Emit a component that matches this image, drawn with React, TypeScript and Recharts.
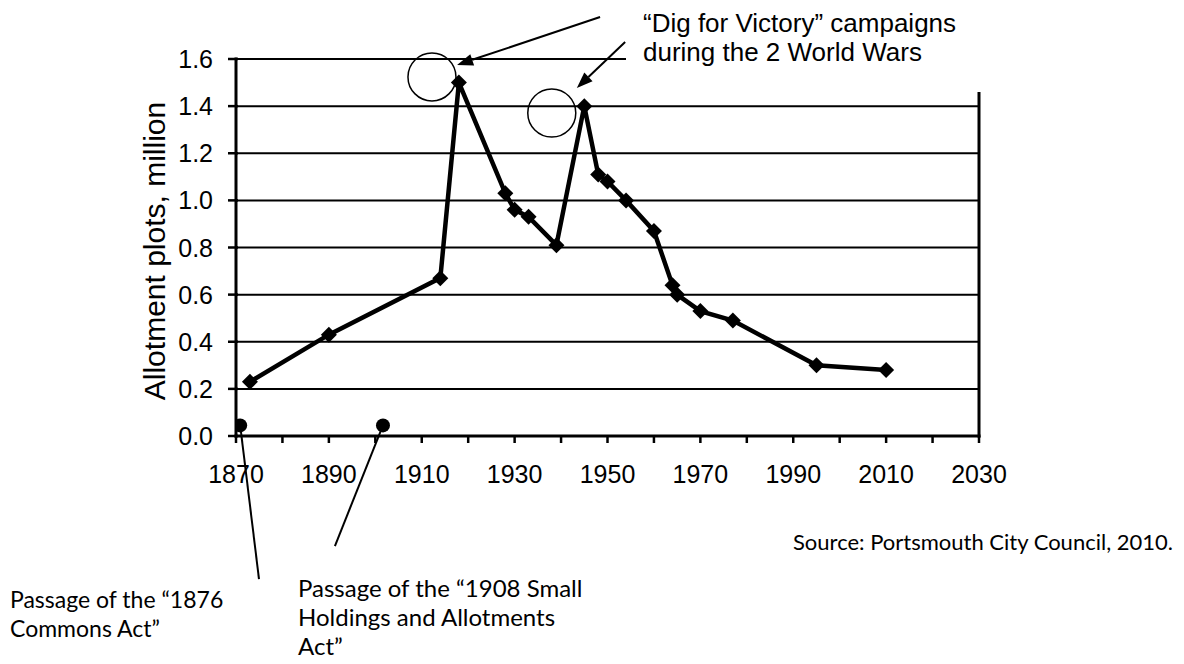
import React from 'react';
import {
  ComposedChart,
  Line,
  Scatter,
  XAxis,
  YAxis,
  CartesianGrid,
  ReferenceLine,
  ReferenceDot,
} from 'recharts';

// ---- Data ----
const years = [1873, 1890, 1914, 1918, 1928, 1930, 1933, 1939, 1945, 1948, 1950, 1954, 1960, 1964, 1965, 1970, 1977, 1995, 2010];
const plots = [0.23, 0.43, 0.67, 1.5, 1.03, 0.96, 0.93, 0.81, 1.4, 1.11, 1.08, 1.0, 0.87, 0.64, 0.6, 0.53, 0.49, 0.3, 0.28];

// the two "Act" markers near the x axis
const actYears = [1870.9, 1901.65];
const actValues = [0.045, 0.045];

const xTicks = [1870, 1880, 1890, 1900, 1910, 1920, 1930, 1940, 1950, 1960, 1970, 1980, 1990, 2000, 2010, 2020, 2030];
const yTicks = [0, 0.2, 0.4, 0.6, 0.8, 1.0, 1.2, 1.4, 1.6];

const yLabel = 'Allotment plots, million';
const digLines = ['\u201CDig for Victory\u201D campaigns', 'during the 2 World Wars'];
const commonsLines = ['Passage of the \u201C1876', 'Commons Act\u201D'];
const smallHoldingsLines = ['Passage of the \u201C1908 Small', 'Holdings and Allotments', 'Act\u201D'];
const sourceText = 'Source: Portsmouth City Council, 2010.';

// annotation anchors in data units
const circleCenters = [
  { x: 1912.2, y: 1.524 },
  { x: 1938.0, y: 1.371 },
];
const arrows = [
  [{ x: 1948.4, y: 1.778 }, { x: 1917.6, y: 1.575 }],
  [{ x: 1953.8, y: 1.672 }, { x: 1943.4, y: 1.477 }],
];
const pointers = [
  [{ x: 1870.9, y: 0.045 }, { x: 1874.95, y: -0.607 }],
  [{ x: 1901.65, y: 0.045 }, { x: 1891.3, y: -0.467 }],
];

const rows = years.map((year, i) => ({ year, v: plots[i] }));
const actRows = actYears.map((year, i) => ({ year, v: actValues[i] }));

const ARIAL = "'Liberation Sans', Arial, sans-serif";
const CALIBRI = "Lato, 'Open Sans', sans-serif";

const X_TICK = 7;
const Y_TICK = 8;

const XTick = (props: any) => {
  const { x, y, payload } = props;
  const v = payload.value;
  const labelled = (v - 1870) % 20 === 0;
  return (
    <g>
      <line x1={x} y1={y - X_TICK} x2={x} y2={y} stroke="#000" strokeWidth={2.5} />
      {labelled && (
        <text x={x} y={y + 40} textAnchor="middle" fontFamily={ARIAL} fontSize={25} fill="#000">
          {v}
        </text>
      )}
    </g>
  );
};

const YTick = (props: any) => {
  const { x, y, payload } = props;
  return (
    <g>
      <line x1={x} y1={y} x2={x + Y_TICK + 2} y2={y} stroke="#000" strokeWidth={2.5} />
      <text x={x - 15} y={y + 9} textAnchor="end" fontFamily={ARIAL} fontSize={25} fill="#000">
        {Number(payload.value).toFixed(1)}
      </text>
    </g>
  );
};

const Diamond = (props: any) => {
  const { cx, cy, index } = props;
  if (cx == null || cy == null) return <g key={`d-${index}`} />;
  const s = 8;
  return (
    <polygon
      key={`d-${index}`}
      points={`${cx},${cy - s} ${cx + s},${cy} ${cx},${cy + s} ${cx - s},${cy}`}
      fill="#000"
    />
  );
};

const ActDot = (props: any) => {
  const { cx, cy } = props;
  return <circle cx={cx} cy={cy} r={7} fill="#000" />;
};

const FrameLine = (props: any) => {
  const { x1, y1, x2, y2 } = props;
  return <line x1={x1} y1={y1} x2={x2} y2={y2} stroke="#000" strokeWidth={3} strokeLinecap="square" />;
};

const ArrowShape = (props: any) => {
  const { x1, y1, x2, y2 } = props;
  const dx = x2 - x1;
  const dy = y2 - y1;
  const len = Math.sqrt(dx * dx + dy * dy) || 1;
  const ux = dx / len;
  const uy = dy / len;
  const headLen = 16;
  const headW = 6;
  const bx = x2 - ux * headLen;
  const by = y2 - uy * headLen;
  const px = -uy;
  const py = ux;
  return (
    <g>
      <line x1={x1} y1={y1} x2={bx} y2={by} stroke="#000" strokeWidth={2} />
      <polygon
        points={`${x2},${y2} ${bx + px * headW},${by + py * headW} ${bx - px * headW},${by - py * headW}`}
        fill="#000"
      />
    </g>
  );
};

export default function App() {
  return (
    <div style={{ position: 'relative', width: 1176, height: 656 }}>
      <ComposedChart
        width={1176}
        height={656}
        data={rows}
        margin={{ top: 51, right: 205, bottom: 188, left: 158 }}
      >
        <CartesianGrid horizontal vertical={false} stroke="#000" strokeWidth={2} />
        <XAxis
          type="number"
          dataKey="year"
          domain={[1870, 2030]}
          ticks={xTicks}
          interval={0}
          height={40}
          tickSize={X_TICK}
          tickMargin={0}
          stroke="#000"
          axisLine={false}
          tickLine={false}
          tick={<XTick />}
          allowDataOverflow
        />
        <YAxis
          type="number"
          domain={[0, 1.6]}
          ticks={yTicks}
          interval={0}
          width={70}
          tickSize={Y_TICK}
          tickMargin={0}
          stroke="#000"
          axisLine={false}
          tickLine={false}
          tick={<YTick />}
          allowDataOverflow
          label={{
            content: () => (
              <text
                transform="translate(146, 243) rotate(-90)"
                textAnchor="middle"
                dominantBaseline="central"
                fontFamily={ARIAL}
                fontSize={30}
                fill="#000"
              >
                {yLabel}
              </text>
            ),
          }}
        />
        {/* plot-area frame: left axis, bottom axis, right border */}
        <ReferenceLine
          segment={[{ x: 1870, y: 0 }, { x: 1870, y: 1.6 }]}
          ifOverflow="visible"
          shape={FrameLine}
        />
        <ReferenceLine
          segment={[{ x: 1870, y: 0 }, { x: 2030, y: 0 }]}
          ifOverflow="visible"
          shape={FrameLine}
        />
        <ReferenceLine
          segment={[{ x: 2030, y: 0 }, { x: 2030, y: 1.6 }]}
          ifOverflow="visible"
          shape={FrameLine}
        />
        {circleCenters.map((c, i) => (
          <ReferenceDot
            key={`c${i}`}
            x={c.x}
            y={c.y}
            r={24}
            fill="none"
            stroke="#000"
            strokeWidth={1.5}
            ifOverflow="visible"
          />
        ))}
        {arrows.map((seg, i) => (
          <ReferenceLine key={`a${i}`} segment={seg} ifOverflow="visible" shape={ArrowShape} />
        ))}
        {pointers.map((seg, i) => (
          <ReferenceLine key={`p${i}`} segment={seg} stroke="#000" strokeWidth={2} ifOverflow="visible" />
        ))}
        <Line
          type="linear"
          dataKey="v"
          stroke="#000"
          strokeWidth={4.5}
          dot={Diamond}
          activeDot={false}
          isAnimationActive={false}
        />
        <Scatter data={actRows} dataKey="v" shape={ActDot} isAnimationActive={false} />
      </ComposedChart>
      <svg
        width={1184}
        height={664}
        style={{ position: 'absolute', left: -8, top: -8, pointerEvents: 'none' }}
      >
        <rect x={626} y={0} width={420} height={92} fill="#fff" />
        {digLines.map((t, i) => (
          <text key={t} x={643} y={32 + i * 29} fontFamily={ARIAL} fontSize={26} fill="#000">
            {t}
          </text>
        ))}
        {commonsLines.map((t, i) => (
          <text key={t} x={10} y={608 + i * 29} fontFamily={CALIBRI} fontSize={23} fill="#000">
            {t}
          </text>
        ))}
        {smallHoldingsLines.map((t, i) => (
          <text key={t} x={298} y={597 + i * 29} fontFamily={CALIBRI} fontSize={24} fill="#000">
            {t}
          </text>
        ))}
        <text x={1173} y={550} textAnchor="end" fontFamily={CALIBRI} fontSize={22} fill="#000">
          {sourceText}
        </text>
      </svg>
    </div>
  );
}
